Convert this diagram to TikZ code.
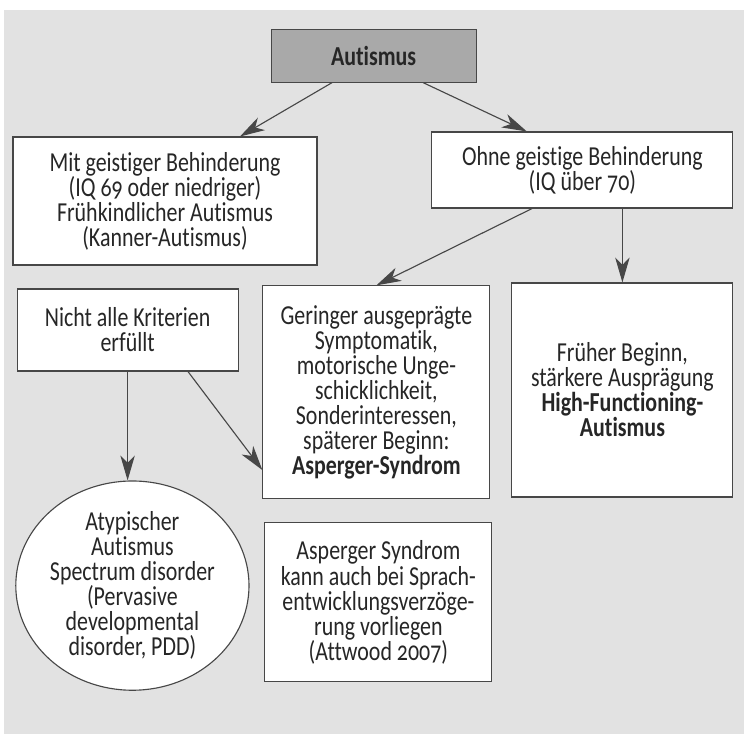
\documentclass[tikz,border=0pt]{standalone}
\usepackage{fontspec}
\setmainfont{Carlito}[FakeStretch=0.8, Numbers=OldStyle, Ligatures=NoCommon]
\usepackage{tikz}
\usetikzlibrary{arrows.meta, shapes.geometric}

\definecolor{pagegray}{HTML}{E2E2E2}
\definecolor{headgray}{HTML}{A9A9A9}
\definecolor{linegray}{HTML}{474747}
\definecolor{inkgray}{HTML}{262626}

\begin{document}
\begin{tikzpicture}[
        box/.style={shape=rectangle, draw=linegray, fill=white, line width=0.8pt, align=center,
            text=inkgray, inner sep=2pt, font=\fontsize{19.5pt}{17.8pt}\selectfont},
        arr/.style={draw=linegray, line width=0.8pt, -{Stealth[length=6.2mm, width=3.6mm, inset=1.8mm]}}
    ]
        \useasboundingbox (0, 0) rectangle (18.6, -18.35);
        \fill[pagegray] (0.1, -0.25) rectangle (18.6, -18.35);

        \node[box, fill=headgray, minimum width=5.125cm, minimum height=1.325cm] (autismus) at (9.34, -1.39) {\textbf{Autismus}};
        \node[box, minimum width=7.6cm, minimum height=3.2cm] (mit) at (4.125, -5.025) {Mit geistiger Behinderung\\(IQ 69 oder niedriger)\\Frühkindlicher Autismus\\(Kanner-Autismus)};
        \node[box, minimum width=7.525cm, minimum height=1.9cm] (ohne) at (14.56, -4.25) {Ohne geistige Behinderung\\(IQ über 70)};
        \node[box, minimum width=5.525cm, minimum height=2.05cm] (nicht) at (3.19, -8.25) {Nicht alle Kriterien\\erfüllt};
        \node[box, minimum width=5.675cm, minimum height=5.325cm] (geringer) at (9.41, -9.81) {Geringer ausgeprägte\\Symptomatik,\\motorische Unge-\\schicklichkeit,\\Sonderinteressen,\\späterer Beginn:\\\textbf{Asperger-Syndrom}};
        \node[box, minimum width=5.525cm, minimum height=5.35cm] (frueher) at (15.56, -9.75) {Früher Beginn,\\stärkere Ausprägung\\\textbf{High-Functioning-}\\\textbf{Autismus}};
        \node[box, shape=ellipse, inner sep=0pt, minimum width=5.825cm, minimum height=5.075cm] (atypisch) at (3.31, -14.64) {Atypischer\\Autismus\\Spectrum disorder\\(Pervasive\\developmental\\disorder, PDD)};
        \node[box, minimum width=5.675cm, minimum height=3.975cm] (asperger) at (9.46, -15.06) {Asperger Syndrom\\kann auch bei Sprach-\\entwicklungsverzöge-\\rung vorliegen\\(Attwood 2007)};

        \draw [arr] ([xshift=-1.04cm]autismus.south) -- ([xshift=1.875cm]mit.north);
        \draw [arr] ([xshift=1.24cm]autismus.south) -- ([xshift=-1.39cm]ohne.north);

        \draw [arr] ([xshift=-1.26cm]ohne.south) -- (geringer.north);
        \draw [arr] (ohne.south -| frueher.north) -- (frueher.north);

        \draw [arr] (nicht.south) -- (nicht.south |- atypisch.north);
        \draw [arr] ([xshift=1.51cm]nicht.south) -- ([yshift=-1.94cm]geringer.west);
    \end{tikzpicture}
\end{document}
